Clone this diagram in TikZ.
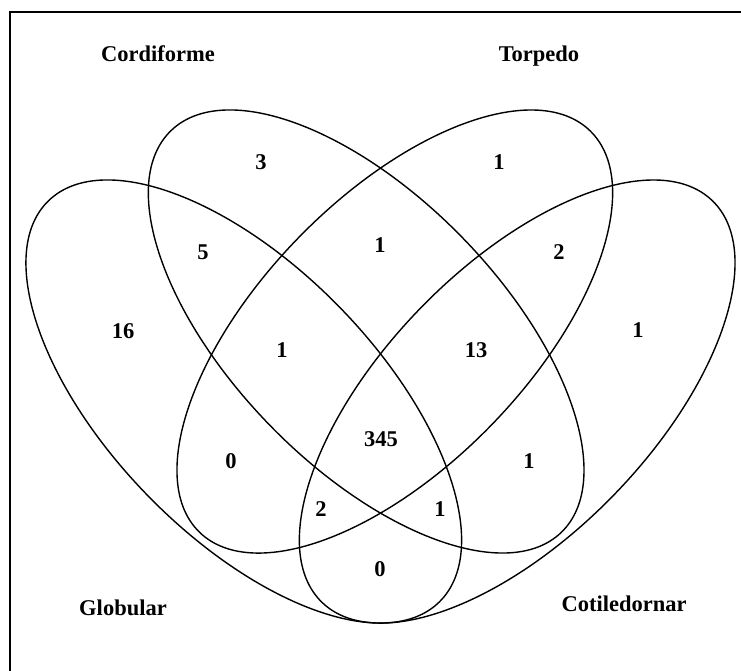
\documentclass[tikz,border=0pt]{standalone}
\usepackage{fontspec}
\setmainfont{Liberation Serif}
\begin{document}
\begin{tikzpicture}[x=1pt,y=1pt,
  vennline/.style={line width=1.4pt, draw=black},
  framestyle/.style={line width=2pt, draw=black},
  lbl/.style={font=\fontsize{22.5}{27}\selectfont\bfseries, anchor=base, inner sep=0pt}]
\useasboundingbox (0,0) rectangle (741,671);
% frame (top and left edges)
\coordinate (fb) at (10,0);
\coordinate (fc) at (10,659);
\coordinate (fr) at (741,659);
\draw[framestyle] (fb) -- (fc) -- (fr);
% ellipse centres
\coordinate (gc) at (243.8,269.5);
\coordinate (cc) at (366.2,339.5);
\coordinate (tc) at (394.8,339.5);
\coordinate (kc) at (517.2,269.5);
% Globular
\draw[vennline, rotate around={-45.77:(gc)}] (gc) ellipse [x radius=280.05pt, y radius=134.44pt];
% Cordiforme
\draw[vennline, rotate around={-45.77:(cc)}] (cc) ellipse [x radius=280.05pt, y radius=134.44pt];
% Torpedo
\draw[vennline, rotate around={45.77:(tc)}] (tc) ellipse [x radius=280.05pt, y radius=134.44pt];
% Cotiledornar
\draw[vennline, rotate around={45.77:(kc)}] (kc) ellipse [x radius=280.05pt, y radius=134.44pt];
% set labels
\node[lbl] (lcord) at (158,609) {Cordiforme};
\node[lbl] (ltorp) at (539,609) {Torpedo};
\node[lbl] (lglob) at (123,55) {Globular};
\node[lbl] (lcoti) at (624,59) {Cotiledornar};
% counts (baseline = 671 - centre - 7.6)
\node[lbl] (n3)   at (261,501.4) {3};
\node[lbl] (n1a)  at (499,501.4) {1};
\node[lbl] (n5)   at (203,411.4) {5};
\node[lbl] (n1b)  at (380,418.4) {1};
\node[lbl] (n2a)  at (559,411.4) {2};
\node[lbl] (n16)  at (123,332.4) {16};
\node[lbl] (n1c)  at (282,313.4) {1};
\node[lbl] (n13)  at (476,313.4) {13};
\node[lbl] (n1d)  at (638,333.4) {1};
\node[lbl] (n0a)  at (231,202.4) {0};
\node[lbl] (n345) at (381,224.4) {345};
\node[lbl] (n1e)  at (529,202.4) {1};
\node[lbl] (n2b)  at (321,154.4) {2};
\node[lbl] (n1f)  at (440,154.4) {1};
\node[lbl] (n0b)  at (380,94.4) {0};
\end{tikzpicture}
\end{document}
